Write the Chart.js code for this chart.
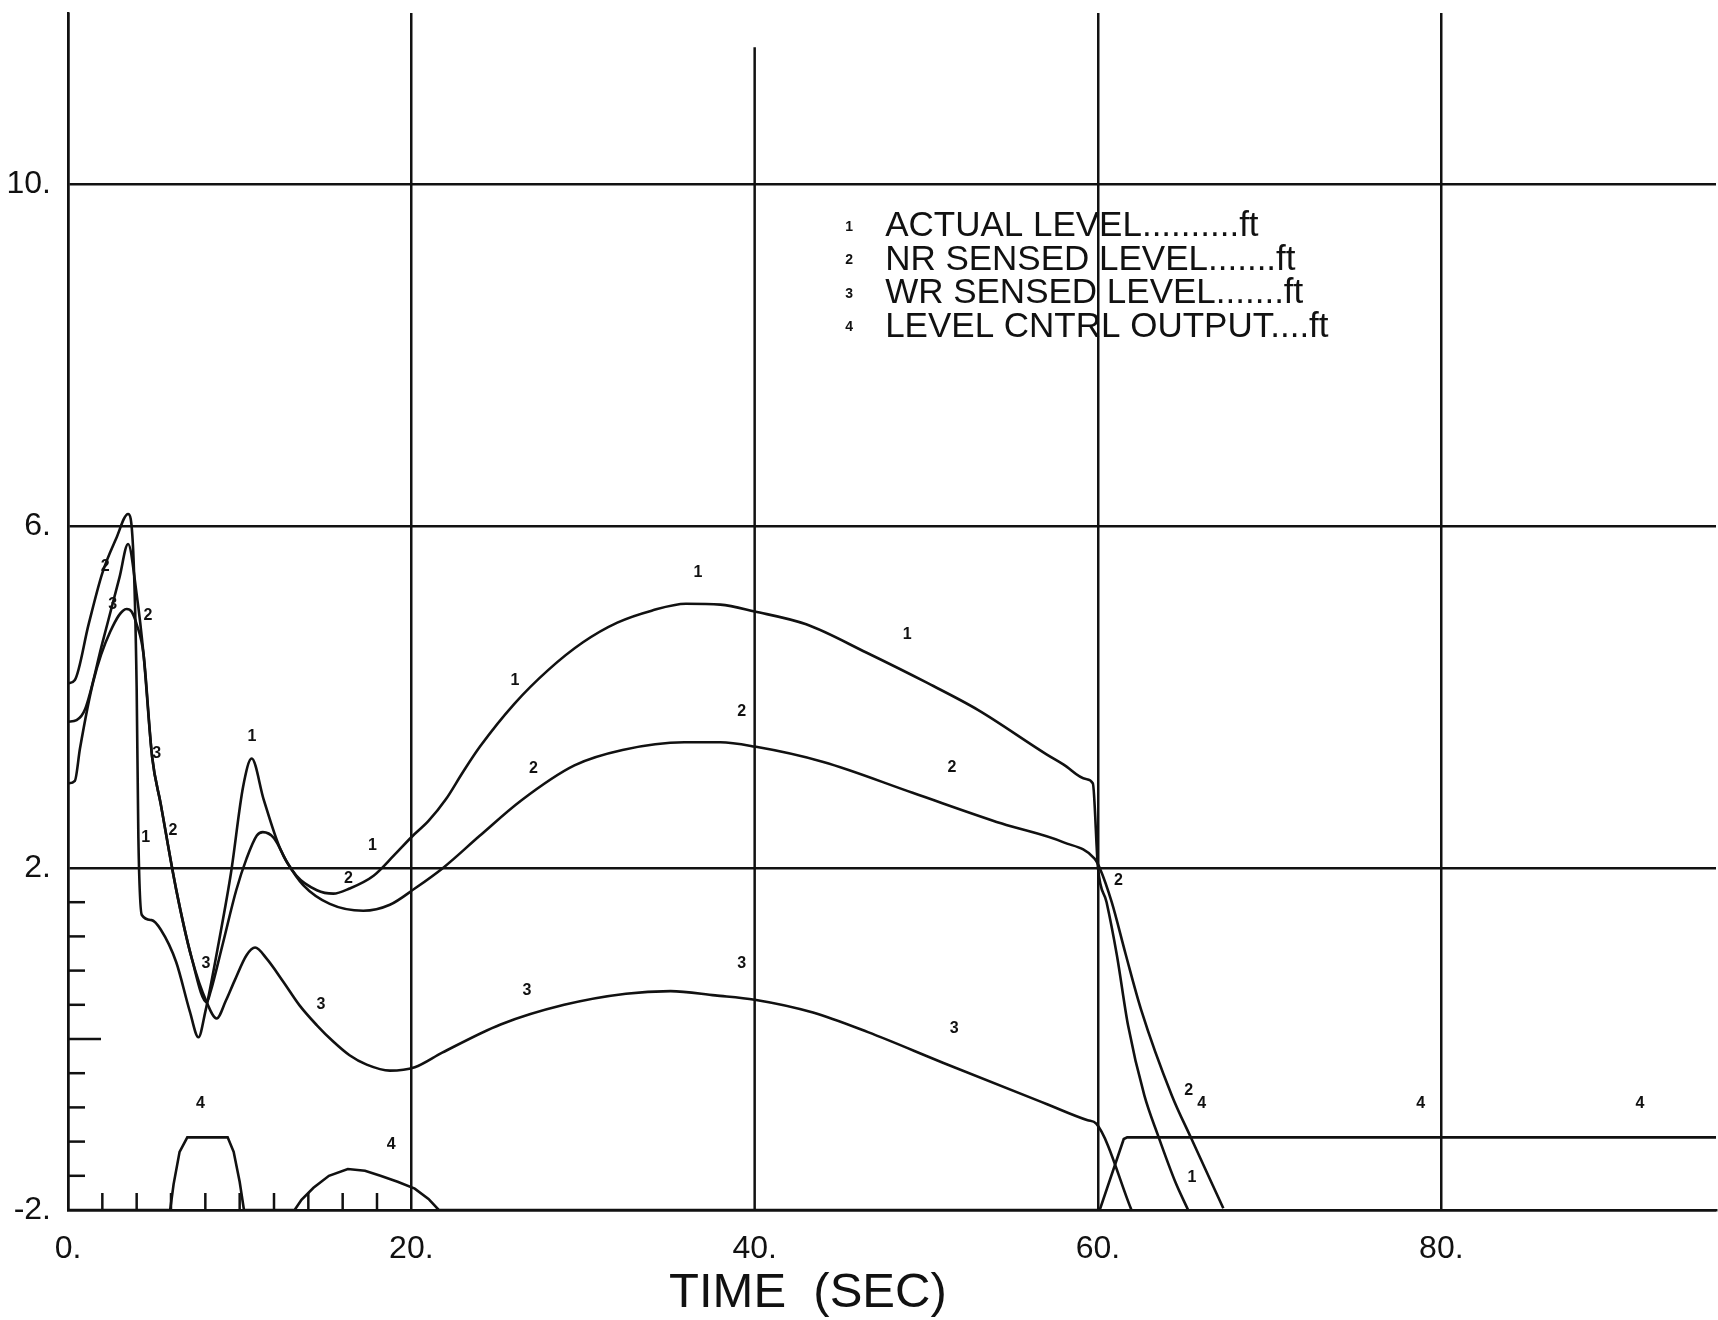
<!DOCTYPE html>
<html>
<head>
  <title>Level response - TIME (SEC)</title>
  <script src="https://cdn.jsdelivr.net/npm/chart.js"></script>
  <style>
    /* plain white page, canvas fills the window */
    body {
      margin: 0;
      padding: 0;
      background: #fff;
    }
    #plot {
      display: block;
    }
  </style>
</head>
<body>
  <canvas id="plot" width="1718" height="1320"></canvas>
  <script>
    // --- DATA ---

    // Axis ticks
    const xTicks = [0, 20, 40, 60, 80];
    const yTicks = [-2, 2, 6, 10];
    const xMinorTicks = [2, 4, 6, 8, 10, 12, 14, 16, 18];
    const yMinorTicks = [-1.6, -1.2, -0.8, -0.4, 0, 0.4, 0.8, 1.2, 1.6];

    // Trace 1: actual level (ft)
    const time1 = [0, 0.4, 1.2, 2.0, 2.8, 3.5, 3.8, 4.0, 4.1, 4.3, 4.87, 5.4, 6.3, 7.1, 7.6,
      8.0, 8.8, 9.5, 10.2, 10.7, 11.4, 12.35, 13.3, 14.5, 15.45, 16.4, 17.8, 19.0, 20.0, 21.0,
      22.0, 23.0, 24.0, 26.0, 28.0, 30.0, 32.0, 34.0, 36.0, 38.0, 40.0, 43.0, 46.5, 50.0, 53.0,
      57.0, 58.0, 59.3, 59.7, 60.0, 60.5, 61.1, 61.75, 62.7, 63.5, 64.5, 65.25];
    const level1 = [4.16, 4.2, 4.85, 5.45, 5.85, 6.14, 5.7, 4.1, 2.35, 1.45, 1.39, 1.28, 0.9, 0.32, 0.02,
      0.32, 1.15, 1.95, 2.95, 3.28, 2.8, 2.23, 1.91, 1.74, 1.70, 1.76, 1.91, 2.15, 2.36, 2.55,
      2.8, 3.12, 3.42, 3.92, 4.32, 4.64, 4.87, 5.01, 5.09, 5.08, 5.0, 4.85, 4.52, 4.17, 3.85,
      3.33, 3.21, 3.04, 2.99, 2.0, 1.6, 0.98, 0.16, -0.66, -1.13, -1.67, -2.0];

    // Trace 2: NR sensed level (ft)
    const time2 = [0, 0.5, 1.0, 2.0, 3.0, 3.5, 4.0, 4.4, 4.9, 5.4, 6.3, 7.2, 8.08, 8.3, 9.0,
      9.8, 10.4, 11.0, 11.35, 12.0, 12.75, 13.7, 15.25, 17.2, 18.75, 20.2, 21.9, 24.0, 26.4, 29.5,
      32.3, 35.9, 38.0, 40.0, 44.0, 49.2, 54.4, 58.0, 59.8, 60.1, 60.8, 61.6, 62.5, 64.3, 65.45, 67.3];
    const level2 = [3.71, 3.73, 3.86, 4.63, 5.4, 5.79, 5.2, 4.5, 3.3, 2.75, 1.75, 0.95, 0.43, 0.55, 1.1,
      1.74, 2.11, 2.38, 2.42, 2.35, 2.07, 1.8, 1.58, 1.5, 1.57, 1.76, 2.01, 2.38, 2.79, 3.2,
      3.38, 3.47, 3.47, 3.42, 3.24, 2.88, 2.52, 2.3, 2.11, 2.0, 1.6, 1.0, 0.35, -0.66, -1.17, -1.98];

    // Trace 3: WR sensed level (ft)
    const time3 = [0, 0.4, 0.7, 1.47, 2.45, 3.42, 3.7, 4.0, 4.4, 4.9, 5.4, 6.3, 7.2, 8.08, 8.66,
      9.2, 9.7, 10.4, 10.9, 11.57, 12.54, 13.5, 14.5, 15.45, 16.4, 17.4, 18.75, 20.2, 21.8, 25.2,
      28.9, 32.5, 35.1, 37.7, 40.0, 43.4, 46.6, 51.0, 57.0, 59.4, 59.9, 61.95];
    const level3 = [2.99, 3.02, 3.4, 4.18, 4.76, 5.03, 5.0, 4.85, 4.5, 3.3, 2.75, 1.75, 0.95, 0.43, 0.24,
      0.45, 0.68, 0.98, 1.07, 0.94, 0.67, 0.39, 0.16, -0.03, -0.19, -0.3, -0.37, -0.33, -0.16, 0.17,
      0.4, 0.53, 0.56, 0.51, 0.46, 0.31, 0.08, -0.28, -0.76, -0.95, -0.99, -2.0];

    // Trace 4: level control output (ft)
    const time4 = [0, 5.95, 6.15, 6.5, 6.95, 9.3, 9.65, 10.0, 10.25, 13.2, 13.6, 14.3, 15.2, 16.3,
      17.3, 18.2, 19.2, 20.2, 21.0, 21.6, 60.1, 61.5, 61.7, 96];
    const level4 = [-2, -2, -1.7, -1.32, -1.15, -1.15, -1.32, -1.67, -2, -2, -1.88, -1.74, -1.6, -1.52,
      -1.54, -1.6, -1.67, -1.75, -1.87, -2, -2, -1.17, -1.15, -1.15];

    // Plotter symbols (trace number) along each curve: [time, level] where the digit sits
    const mark1X = [4.53, 10.72, 17.74, 26.03, 36.69, 48.88, 65.47];
    const mark1Y = [2.36, 3.54, 2.26, 4.19, 5.45, 4.73, -1.62];
    const mark2X = [2.17, 4.66, 6.12, 16.33, 27.12, 39.24, 51.49, 61.19, 65.28];
    const mark2Y = [5.53, 4.95, 2.44, 1.88, 3.16, 3.83, 3.18, 1.85, -0.60];
    const mark3X = [2.61, 5.16, 8.04, 14.74, 26.73, 39.24, 51.62];
    const mark3Y = [5.08, 3.34, 0.88, 0.40, 0.57, 0.88, 0.12];
    const mark4X = [7.72, 18.82, 66.04, 78.8, 91.57];
    const mark4Y = [-0.75, -1.23, -0.75, -0.75, -0.75];

    // Legend lines as printed on the plot
    const legendLines = [
      'ACTUAL LEVEL..........ft',
      'NR SENSED LEVEL.......ft',
      'WR SENSED LEVEL.......ft',
      'LEVEL CNTRL OUTPUT....ft'
    ];
    const xTitle = 'TIME  (SEC)';

    // --- STYLE ---
    const INK = '#111';
    const FONT = "'Liberation Sans', Arial, sans-serif";
    const SHORT_GRID_X = 40;     // this vertical grid line stops below the top on the original
    const SHORT_GRID_TOP = 11.6;

    // zip two arrays into {x, y} points
    function pairs(xs, ys) {
      return xs.map((x, i) => ({ x: x, y: ys[i] }));
    }

    const marks = [
      [mark1X, mark1Y],
      [mark2X, mark2Y],
      [mark3X, mark3Y],
      [mark4X, mark4Y]
    ];

    // Draws what Chart.js has no option for: short grid line, inner minor ticks,
    // curve digits, legend, axis title
    const overlay = {
      id: 'overlay',
      beforeDatasetsDraw(chart) {
        const ctx = chart.ctx;
        const x = chart.scales.x;
        const y = chart.scales.y;
        const px = x.getPixelForValue(SHORT_GRID_X);
        ctx.save();
        ctx.strokeStyle = INK;
        ctx.lineWidth = 2.5;
        ctx.beginPath();
        ctx.moveTo(px, y.getPixelForValue(-2));
        ctx.lineTo(px, y.getPixelForValue(SHORT_GRID_TOP));
        ctx.stroke();
        ctx.restore();
      },
      afterDatasetsDraw(chart) {
        const ctx = chart.ctx;
        const x = chart.scales.x;
        const y = chart.scales.y;
        ctx.save();
        ctx.strokeStyle = INK;
        ctx.fillStyle = INK;
        ctx.lineWidth = 2.5;

        // minor ticks pointing into the plot
        const x0 = x.getPixelForValue(0);
        yMinorTicks.forEach(v => {
          const py = y.getPixelForValue(v);
          ctx.beginPath();
          ctx.moveTo(x0, py);
          ctx.lineTo(x0 + (v === 0 ? 33 : 17), py);
          ctx.stroke();
        });
        const yb = y.getPixelForValue(-2);
        xMinorTicks.forEach(v => {
          const px = x.getPixelForValue(v);
          ctx.beginPath();
          ctx.moveTo(px, yb);
          ctx.lineTo(px, yb - 17);
          ctx.stroke();
        });

        // trace numbers along the curves
        ctx.font = 'bold 16px ' + FONT;
        ctx.textAlign = 'center';
        ctx.textBaseline = 'middle';
        marks.forEach((m, i) => {
          m[0].forEach((t, j) => {
            ctx.fillText(String(i + 1), x.getPixelForValue(t), y.getPixelForValue(m[1][j]));
          });
        });

        // legend block
        const lx = x.getPixelForValue(47.6);
        const ly = y.getPixelForValue(9.5);
        legendLines.forEach((txt, i) => {
          const rowY = ly + i * 33.5;
          ctx.font = 'bold 14px ' + FONT;
          ctx.textAlign = 'center';
          ctx.fillText(String(i + 1), lx - 36, rowY);
          ctx.font = '35px ' + FONT;
          ctx.textAlign = 'left';
          ctx.fillText(txt, lx, rowY);
        });

        // x axis title
        ctx.font = '49px ' + FONT;
        ctx.textAlign = 'center';
        ctx.textBaseline = 'alphabetic';
        ctx.fillText(xTitle, x.getPixelForValue(43.1), chart.height - 13);
        ctx.restore();
      }
    };

    // --- CHART ---
    const ctx = document.getElementById('plot').getContext('2d');

    const chart = new Chart(ctx, {
      type: 'line',
      data: {
        datasets: [
          [time1, level1, 'ACTUAL LEVEL'],
          [time2, level2, 'NR SENSED LEVEL'],
          [time3, level3, 'WR SENSED LEVEL'],
          [time4, level4, 'LEVEL CNTRL OUTPUT']
        ].map((s, i) => ({
          label: s[2],
          data: pairs(s[0], s[1]),
          borderColor: INK,
          borderWidth: 2.6,
          pointRadius: 0,
          // smooth level traces, keep the controller output piecewise straight
          cubicInterpolationMode: i < 3 ? 'monotone' : 'default',
          tension: 0,
          fill: false
        }))
      },
      options: {
        responsive: false,
        animation: false,
        layout: { padding: { top: 13, right: 2, left: 0, bottom: 0 } },
        plugins: {
          legend: { display: false },
          tooltip: { enabled: false }
        },
        scales: {
          x: {
            type: 'linear',
            min: 0,
            max: 96,
            afterBuildTicks: axis => { axis.ticks = xTicks.map(v => ({ value: v })); },
            afterFit: axis => { axis.height = 110; axis.paddingLeft = 0; axis.paddingRight = 0; },
            grid: {
              color: c => (c.tick && c.tick.value === SHORT_GRID_X ? 'rgba(0,0,0,0)' : INK),
              lineWidth: 2.5,
              drawTicks: false
            },
            border: { color: INK, width: 2.5 },
            ticks: {
              color: INK,
              font: { family: FONT, size: 32 },
              padding: 20,
              maxRotation: 0,
              autoSkip: false,
              callback: v => v + '.'
            }
          },
          y: {
            min: -2,
            max: 12,
            afterBuildTicks: axis => { axis.ticks = yTicks.map(v => ({ value: v })); },
            afterFit: axis => { axis.width = 68; axis.paddingTop = 0; axis.paddingBottom = 0; },
            grid: { color: INK, lineWidth: 2.5, drawTicks: false },
            border: { color: INK, width: 2.5 },
            ticks: {
              color: INK,
              font: { family: FONT, size: 32 },
              padding: 17,
              autoSkip: false,
              callback: v => v + '.'
            }
          }
        }
      },
      plugins: [overlay]
    });
  </script>
</body>
</html>
